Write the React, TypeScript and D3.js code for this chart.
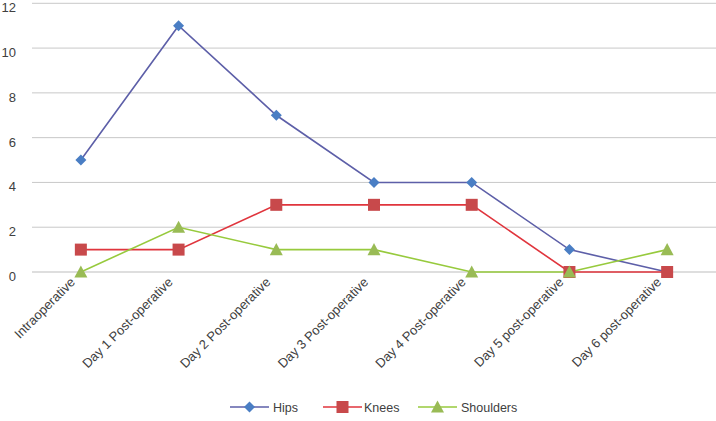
import React from "react";
import * as d3 from "d3";

const categories = [
  "Intraoperative",
  "Day 1 Post-operative",
  "Day 2 Post-operative",
  "Day 3 Post-operative",
  "Day 4 Post-operative",
  "Day 5 post-operative",
  "Day 6 post-operative",
];
const hips = [5, 11, 7, 4, 4, 1, 0];
const knees = [1, 1, 3, 3, 3, 0, 0];
const shoulders = [0, 2, 1, 1, 0, 0, 1];
const yTicks = [0, 2, 4, 6, 8, 10, 12];

const series = [
  { name: "Hips", values: hips, line: "#5D5FA8", fill: "#4A7EC4", shape: "diamond" },
  { name: "Knees", values: knees, line: "#E0353D", fill: "#C8494B", shape: "square" },
  { name: "Shoulders", values: shoulders, line: "#97CA3D", fill: "#99BB55", shape: "triangle" },
];

const W = 716;
const H = 421;
const left = 32;
const right = 716;
const top = 3.3;
const bottom = 272;
const FONT = "'Liberation Sans', Arial, sans-serif";

function Marker({ shape, x, y, color }: { shape: string; x: number; y: number; color: string }) {
  if (shape === "diamond") {
    const s = 5.5;
    return <path d={`M${x},${y - s}L${x + s},${y}L${x},${y + s}L${x - s},${y}Z`} fill={color} />;
  }
  if (shape === "square") {
    const s = 6;
    return <rect x={x - s} y={y - s} width={2 * s} height={2 * s} fill={color} />;
  }
  const s = 6.5;
  return <path d={`M${x},${y - s}L${x + s},${y + s * 0.85}L${x - s},${y + s * 0.85}Z`} fill={color} />;
}

export default function App() {
  const x = d3.scaleBand<string>().domain(categories).range([left, right]);
  const y = d3.scaleLinear().domain([0, 12]).range([bottom, top]);
  const cx = (c: string) => (x(c) as number) + x.bandwidth() / 2;
  const line = d3
    .line<number>()
    .x((_, i) => cx(categories[i]))
    .y((d) => y(d));

  const legendItems = [
    { lx: 230, tx: 273 },
    { lx: 323, tx: 364 },
    { lx: 418, tx: 461 },
  ];
  const ly = 407;

  return (
    <svg width={W} height={H} style={{ position: "absolute", left: 0, top: 0 }}>
      <rect width={W} height={H} fill="#fff" />
      {yTicks.map((t) => (
        <g key={t}>
          <line x1={left} x2={right} y1={y(t)} y2={y(t)} stroke={t === 0 ? "#BDBDBD" : "#C8C8C8"} strokeWidth={1} />
          <text x={16} y={y(t) + 9} textAnchor="end" fontFamily={FONT} fontSize={13} fill="#404040">
            {t}
          </text>
        </g>
      ))}
      {categories.map((c) => (
        <text
          key={c}
          transform={`translate(${cx(c) - 5},${bottom + 11}) rotate(-45)`}
          textAnchor="end"
          fontFamily={FONT}
          fontSize={13}
          fill="#404040"
        >
          {c}
        </text>
      ))}
      {series.map((s) => (
        <path key={s.name} d={line(s.values) || ""} fill="none" stroke={s.line} strokeWidth={1.6} />
      ))}
      {series.map((s) =>
        s.values.map((v, i) => (
          <Marker key={s.name + i} shape={s.shape} x={cx(categories[i])} y={y(v)} color={s.fill} />
        ))
      )}
      {series.map((s, i) => {
        const it = legendItems[i];
        return (
          <g key={s.name}>
            <line x1={it.lx} x2={it.lx + 39} y1={ly} y2={ly} stroke={s.line} strokeWidth={1.6} />
            <Marker shape={s.shape} x={it.lx + 19.5} y={ly} color={s.fill} />
            <text x={it.tx} y={ly + 4.5} fontFamily={FONT} fontSize={12.5} fill="#404040">
              {s.name}
            </text>
          </g>
        );
      })}
    </svg>
  );
}
